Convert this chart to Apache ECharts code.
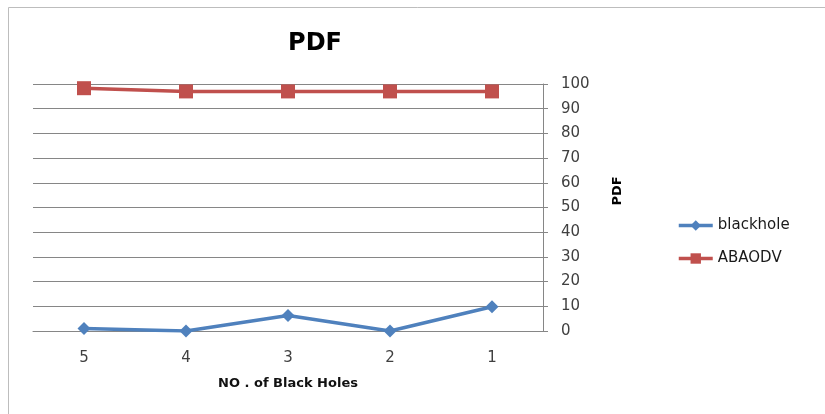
<!DOCTYPE html>
<html>
<head>
<meta charset="utf-8">
<script src="https://cdn.jsdelivr.net/npm/echarts@6/dist/echarts.min.js"></script>
<style>
html,body{margin:0;padding:0;background:#fff;}
#chart{width:825px;height:414px;}
</style>
</head>
<body>
<div id="chart"></div>
<script>
var categories = ['5', '4', '3', '2', '1'];
var blackhole = [1, 0, 6.3, 0, 9.8];
var abaodv = [98.3, 97, 97, 97, 97];
var yTicks = [0, 10, 20, 30, 40, 50, 60, 70, 80, 90, 100];

var chart = echarts.init(document.getElementById('chart'));
var option = {
  backgroundColor: '#fff',
  animation: false,
  title: {
    text: 'PDF',
    left: 310, top: 27, textAlign: 'center',
    textStyle: {fontFamily: 'DejaVu Sans', fontSize: 24, fontWeight: 'bold', color: '#000'}
  },
  graphic: [
    {type: 'rect', shape: {x: 8.5, y: 7.5, width: 900, height: 500}, style: {fill: 'none', stroke: '#bdbdbd', lineWidth: 1}, z: -1},
    {type: 'text', x: 618, y: 191, rotation: Math.PI / 2,
     style: {text: 'PDF', fontFamily: 'DejaVu Sans', fontSize: 13, fontWeight: 'bold', fill: '#000', align: 'center', verticalAlign: 'middle'}}
  ],
  legend: {
    orient: 'vertical', left: 672, top: 213, itemGap: 18, itemWidth: 34, itemHeight: 13,
    textStyle: {fontFamily: 'DejaVu Sans', fontSize: 15, color: '#1a1a1a'},
    lineStyle: {width: 3.5},
    data: ['blackhole', 'ABAODV']
  },
  grid: {left: 33, right: 282, top: 84, bottom: 83},
  xAxis: {
    type: 'category', data: categories, boundaryGap: true,
    name: 'NO . of Black Holes', nameLocation: 'middle', nameGap: 46,
    nameTextStyle: {fontFamily: 'DejaVu Sans', fontSize: 13, fontWeight: 'bold', color: '#111'},
    axisLine: {show: true, lineStyle: {color: '#868686', width: 1}},
    axisTick: {show: false},
    axisLabel: {margin: 20, fontFamily: 'DejaVu Sans', fontSize: 15, color: '#404040'}
  },
  yAxis: {
    type: 'value', position: 'right', min: 0, max: 100, interval: 10,
    axisLine: {show: true, lineStyle: {color: '#868686', width: 1}},
    axisTick: {show: true, length: 5, lineStyle: {color: '#868686'}},
    splitLine: {show: true, lineStyle: {color: '#868686', width: 1}},
    axisLabel: {margin: 18, fontFamily: 'DejaVu Sans', fontSize: 15, color: '#404040',
      formatter: function (v) { return yTicks.indexOf(v) >= 0 ? String(v) : ''; }}
  },
  series: [
    {name: 'blackhole', type: 'line', data: blackhole, symbol: 'diamond', symbolSize: 13,
     lineStyle: {color: '#4F81BD', width: 3.5}, itemStyle: {color: '#4F81BD'}},
    {name: 'ABAODV', type: 'line', data: abaodv, symbol: 'rect', symbolSize: 14,
     lineStyle: {color: '#C0504D', width: 3.5}, itemStyle: {color: '#C0504D'}}
  ]
};
chart.setOption(option);
</script>
</body>
</html>
